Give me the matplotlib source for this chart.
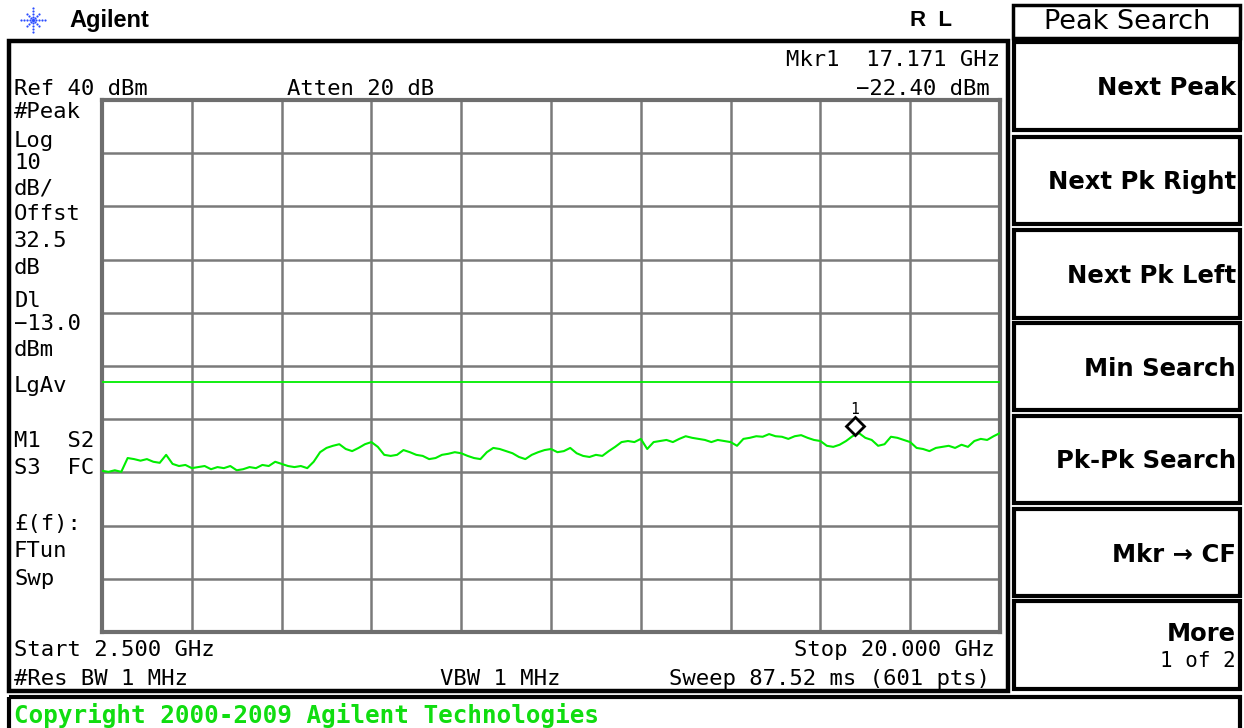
import numpy as np
import matplotlib
matplotlib.use("Agg")
import matplotlib.pyplot as plt
from matplotlib.patches import Rectangle
import matplotlib.transforms as mtransforms

# ---------------- data ----------------
start_ghz = 2.5
stop_ghz = 20.0
ref_dbm = 40.0
db_per_div = 10.0
display_line_dbm = -13.0
marker_freq = 17.171
marker_level = -22.40

trace_levels = [
    -29.7, -29.9, -29.6, -29.9, -27.3, -27.5, -27.8, -27.5, -28.0, -28.2,
    -26.7, -28.4, -28.8, -28.6, -29.2, -29.0, -28.8, -29.4, -29.0, -29.2,
    -28.8, -29.6, -29.4, -29.0, -29.2, -28.6, -28.8, -28.0, -28.4, -28.8,
    -29.0, -28.8, -29.2, -28.0, -26.2, -25.4, -25.0, -24.7, -25.6, -26.0,
    -25.4, -24.7, -24.3, -25.2, -26.7, -26.9, -26.7, -25.8, -26.2, -26.7,
    -26.9, -27.5, -27.3, -26.7, -26.5, -26.2, -26.4, -26.9, -27.3, -27.5,
    -26.2, -25.4, -25.6, -26.0, -26.4, -27.1, -27.5, -26.7, -26.2, -25.8,
    -25.6, -26.2, -26.0, -25.4, -26.4, -26.9, -27.1, -26.7, -26.9, -26.0,
    -25.2, -24.3, -24.1, -24.3, -23.7, -25.6, -24.3, -24.1, -23.9, -24.3,
    -23.7, -23.2, -23.5, -23.7, -23.9, -24.3, -23.9, -24.1, -24.3, -25.0,
    -23.7, -23.5, -23.2, -23.3, -22.8, -23.2, -23.3, -23.7, -23.2, -23.0,
    -23.5, -23.9, -24.1, -25.0, -25.2, -24.8, -24.1, -23.2, -22.6, -23.5,
    -23.9, -25.0, -24.7, -23.3, -23.5, -23.9, -24.3, -25.4, -25.6, -26.0,
    -25.4, -25.2, -25.0, -25.4, -24.8, -25.2, -24.1, -23.7, -23.9, -23.2,
    -22.6,
]
trace_freqs = np.linspace(start_ghz, stop_ghz, len(trace_levels))

left_labels = ["#Peak", "Log", "10", "dB/", "Offst", "32.5", "dB", "Dl",
               "\u221213.0", "dBm", "LgAv", "M1  S2", "S3  FC", "\u00a3(f):",
               "FTun", "Swp"]
left_baselines = [118, 147, 169, 195, 220, 247, 274, 307, 330, 356, 392,
                  447, 474, 530, 557, 585]

softkeys = ["Next Peak", "Next Pk Right", "Next Pk Left", "Min Search",
            "Pk-Pk Search", "Mkr \u2192 CF"]

# ---------------- figure ----------------
W, H = 1244, 728
fig = plt.figure(figsize=(W / 100, H / 100), dpi=100)
fig.patch.set_facecolor("white")

bg = fig.add_axes([0, 0, 1, 1])
bg.set_xlim(0, W)
bg.set_ylim(H, 0)
bg.axis("off")

MONO = "DejaVu Sans Mono"
SANS = "DejaVu Sans"
GREEN = "#00ee00"

# logo
cx, cy = 33, 20
for ang in np.arange(0, 360, 45):
    a = np.deg2rad(ang)
    rr = np.array([3, 6, 9, 12]) if ang % 90 == 0 else np.array([3, 6, 9])
    bg.scatter(cx + rr * np.cos(a), cy + rr * np.sin(a), s=2.5,
               color="#2a4cff", zorder=5, linewidths=0)
bg.scatter([cx], [cy], s=6, color="#2a4cff", linewidths=0)
bg.text(69, 21, "Agilent", fontsize=17, fontweight="bold", family="Liberation Sans",
        ha="left", va="center")
bg.text(931, 21, "R  L", fontsize=16, fontweight="bold", family="Liberation Sans",
        ha="center", va="center")

# boxes
def box(x0, y0, x1, y1, lw=2.5):
    bg.add_patch(Rectangle((x0, y0), x1 - x0, y1 - y0, fill=False,
                           ec="black", lw=lw, zorder=3))

box(1013, 5, 1240, 38)
bg.text(1127, 22, "Peak Search", fontsize=19.5, family=SANS, ha="center",
        va="center")
box(9, 41, 1008, 691, lw=3.2)
key_rows = [(42, 130), (137, 224), (230, 318), (323, 410), (416, 503),
            (509, 596), (601, 689)]
for (y0, y1) in key_rows:
    box(1014, y0, 1240, y1, lw=3)
for (y0, y1), lab in zip(key_rows[:6], softkeys):
    bg.text(1236, (y0 + y1) / 2 + 9, lab, fontsize=17.5, fontweight="bold",
            family=SANS, ha="right", va="baseline")
bg.text(1236, 641, "More", fontsize=17.5, fontweight="bold", family=SANS,
        ha="right", va="baseline")
bg.text(1236, 667, "1 of 2", fontsize=15, family=MONO, ha="right",
        va="baseline")
box(9, 697, 1240, 735, lw=3)
bg.text(14, 716, "Copyright 2000-2009 Agilent Technologies", fontsize=17.5,
        fontweight="bold", family=MONO, color="#10dd10", ha="left",
        va="center")

# annotation text on screen
FS = 16
bg.text(14, 95, "Ref 40 dBm", fontsize=FS, family=MONO, ha="left", va="baseline")
bg.text(287, 95, "Atten 20 dB", fontsize=FS, family=MONO, ha="left", va="baseline")
bg.text(1000, 66, "Mkr1  17.171 GHz", fontsize=FS, family=MONO, ha="right",
        va="baseline")
bg.text(990, 95, "\u221222.40 dBm", fontsize=FS, family=MONO, ha="right",
        va="baseline")
for lab, yb in zip(left_labels, left_baselines):
    bg.text(14, yb, lab, fontsize=FS, family=MONO, ha="left", va="baseline")
bg.text(14, 656, "Start 2.500 GHz", fontsize=FS, family=MONO, ha="left",
        va="baseline")
bg.text(995, 656, "Stop 20.000 GHz", fontsize=FS, family=MONO, ha="right",
        va="baseline")
bg.text(14, 685, "#Res BW 1 MHz", fontsize=FS, family=MONO, ha="left",
        va="baseline")
bg.text(440, 685, "VBW 1 MHz", fontsize=FS, family=MONO, ha="left",
        va="baseline")
bg.text(990, 685, "Sweep 87.52 ms (601 pts)", fontsize=FS, family=MONO,
        ha="right", va="baseline")

# ---------------- graticule / trace ----------------
gx0, gx1, gy0, gy1 = 102, 1000, 100, 632
ax = fig.add_axes([gx0 / W, 1 - gy1 / H, (gx1 - gx0) / W, (gy1 - gy0) / H])
ax.set_facecolor("white")
ax.set_xlim(start_ghz, stop_ghz)
ax.set_ylim(ref_dbm - 10 * db_per_div, ref_dbm)
ax.set_xticks(np.linspace(start_ghz, stop_ghz, 11))
ax.set_yticks(np.linspace(ref_dbm - 10 * db_per_div, ref_dbm, 11))
ax.tick_params(length=0, labelbottom=False, labelleft=False)
ax.grid(True, color="#7a7a7a", lw=1.8)
for s in ax.spines.values():
    s.set_color("#6e6e6e")
    s.set_linewidth(3)
ax.axhline(display_line_dbm, color=GREEN, lw=1.3, zorder=3)
ax.plot(trace_freqs, trace_levels, color=GREEN, lw=1.5, zorder=4)

mk_tr = mtransforms.offset_copy(ax.transData, fig=fig, x=0, y=6, units="dots")
ax.plot([marker_freq], [marker_level], marker="D", ms=9, mfc="white",
        mec="black", mew=2, transform=mk_tr, zorder=6)
ax.annotate("1", (marker_freq, marker_level), xytext=(0, 22),
            textcoords="offset pixels", ha="center", va="center",
            fontsize=10.5, family=MONO, zorder=6)

fig.savefig("out.png", dpi=100)
